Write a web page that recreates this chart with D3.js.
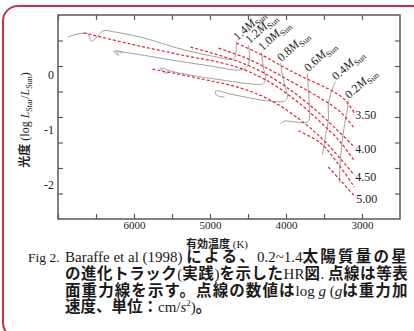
<!DOCTYPE html>
<html>
<head>
<meta charset="utf-8">
<script src="https://cdn.jsdelivr.net/npm/d3@7"></script>
<style>
  body { margin: 0; background: #fff; }
  svg { display: block; }
  .serif { font-family: "Liberation Serif", "DejaVu Serif", serif; }
  .jp { font-family: "Noto Sans CJK JP", sans-serif; font-weight: bold; }
  .axis line { stroke: #5a5a5a; stroke-width: 1.2; }
  .axis path { display: none; }
  .axis text { font-family: "Liberation Serif", serif; fill: #222; }
</style>
</head>
<body>
<svg id="chart"></svg>
<script>
// evolutionary tracks, [Teff (K), log L/Lsun], from the top of the Hayashi track to the ZAMS
const track14 = [[4651,0.47],[4664,0.22],[4690,0.14],[4993,0.20],[5426,0.35],[5873,0.55],[6267,0.67],[6398,0.69],[6556,0.49],[6608,0.63],[6700,0.64],[6871,0.57]];
const track12 = [[4493,0.41],[4480,0.12],[4520,-0.02],[4599,-0.08],[4993,0.00],[5518,0.12],[6043,0.25],[6267,0.29],[6201,0.21],[6227,0.29],[6148,0.25]];
const track10 = [[4323,0.27],[4296,-0.04],[4270,-0.27],[4310,-0.35],[4467,-0.35],[4861,-0.27],[5255,-0.18],[5518,-0.10],[5649,-0.04],[5597,-0.14],[5544,-0.12]];
const track08 = [[4073,0.06],[4047,-0.18],[4007,-0.43],[3981,-0.61],[4021,-0.69],[4204,-0.69],[4467,-0.63],[4730,-0.55],[4927,-0.49],[4914,-0.57],[4809,-0.61]];
const track06 = [[3718,-0.14],[3705,-0.47],[3692,-0.76],[3692,-1.02],[3718,-1.10],[3876,-1.10],[4021,-1.08],[4073,-1.14]];
const track04 = [[3351,-0.31],[3416,-0.57],[3443,-0.76],[3443,-1.06],[3482,-1.39],[3521,-1.75]];
const track02 = [[3180,-0.67],[3193,-0.86],[3219,-1.06],[3259,-1.45],[3285,-1.84],[3298,-2.29]];
const massLabels = ["1.4", "1.2", "1.0", "0.8", "0.6", "0.4", "0.2"];

// lines of equal surface gravity (log g)
const logg350 = [[4651,0.45],[4296,0.20],[4033,-0.02],[3771,-0.22],[3416,-0.47],[3219,-0.67],[3101,-0.92]];
const logg375 = [[4888,0.35],[4533,0.16],[4204,-0.08],[3876,-0.35],[3547,-0.63],[3285,-0.90],[3101,-1.22]];
const logg400 = [[5255,0.37],[4690,0.12],[4310,-0.12],[3942,-0.47],[3613,-0.86],[3351,-1.22],[3101,-1.59]];
const logg425 = [[6661,0.65],[6043,0.43],[5386,0.22],[4690,0.00],[4270,-0.27],[3876,-0.67],[3547,-1.10],[3285,-1.49],[3101,-1.86]];
const logg450 = [[5755,-0.06],[5124,-0.25],[4599,-0.43],[4204,-0.67],[3810,-1.06],[3482,-1.49],[3101,-2.14]];
const logg475 = [[3837,-1.27],[3547,-1.51],[3324,-1.90],[3101,-2.37]];
const logg500 = [[3443,-1.98],[3285,-2.24],[3088,-2.57]];
const loggLabels = ["3.50", "", "4.00", "", "4.50", "", "5.00"];

const xTickValues = [3000, 3500, 4000, 4500, 5000, 5500, 6000, 6500, 7000];
const xTickLabels = [3000, 4000, 5000, 6000];
const yTickValues = [0.5, 0, -0.5, -1, -1.5, -2, -2.5];
const yTickLabels = [0, -1, -2];

var margin = {top: 15, left: 58}
  , width = 342
  , height = 204;

var svg = d3.select("#chart")
  .attr("width", 414)
  .attr("height", 331);

// red rounded frame round the whole figure
svg.append("rect")
  .attr("x", 3).attr("y", 6)
  .attr("width", 424).attr("height", 332)
  .attr("rx", 15)
  .attr("fill", "none")
  .attr("stroke", "#c7304c")
  .attr("stroke-width", 2);

var x = d3.scaleLinear().domain([7000, 2500]).range([0, width]);
var y = d3.scaleLinear().domain([-3, 1]).range([height, 0]);
// the printed y labels sit a little off the tick marks
var yLab = d3.scaleLinear().domain([0, -2]).range([60, 170]);

var graph = svg.append("g")
  .attr("transform", "translate(" + margin.left + "," + margin.top + ")");

graph.append("rect")
  .attr("width", width).attr("height", height)
  .attr("fill", "none")
  .attr("stroke", "#5a5a5a")
  .attr("stroke-width", 1.5);

graph.append("g")
  .attr("class", "axis")
  .attr("transform", "translate(0," + height + ")")
  .call(d3.axisBottom(x).tickValues(xTickValues).tickSize(-5).tickPadding(2)
    .tickFormat(d => xTickLabels.includes(d) ? d : ""))
  .selectAll("text").attr("font-size", 11);

graph.append("g")
  .attr("class", "axis")
  .call(d3.axisTop(x).tickValues(xTickValues).tickSize(-5).tickFormat(""));

graph.append("g")
  .attr("class", "axis")
  .call(d3.axisLeft(y).tickValues(yTickValues).tickSize(-5).tickFormat(""));

graph.append("g")
  .attr("class", "axis")
  .attr("transform", "translate(" + width + ",0)")
  .call(d3.axisRight(y).tickValues(yTickValues).tickSize(-5).tickFormat(""));

graph.append("g")
  .attr("class", "axis")
  .call(d3.axisLeft(yLab).tickValues(yTickLabels).tickSize(0).tickPadding(4)
    .tickFormat(d => String(d)))
  .selectAll("text").attr("font-size", 12);

var line = d3.line()
  .x(d => x(d[0]))
  .y(d => y(d[1]))
  .curve(d3.curveCatmullRom.alpha(0.5));

const tracks = [track14, track12, track10, track08, track06, track04, track02];
const isoLines = [logg350, logg375, logg400, logg425, logg450, logg475, logg500];

graph.selectAll("path.track")
  .data(tracks)
  .enter().append("path")
  .attr("class", "track")
  .attr("d", line)
  .attr("fill", "none")
  .attr("stroke", "#a0a0a0")
  .attr("stroke-width", 1);

graph.selectAll("path.iso")
  .data(isoLines)
  .enter().append("path")
  .attr("class", "iso")
  .attr("d", line)
  .attr("fill", "none")
  .attr("stroke", "#dc2530")
  .attr("stroke-width", 1.2)
  .attr("stroke-dasharray", "3,2");

// mass labels at the top of each track
const massText = graph.selectAll("text.mass")
  .data(tracks)
  .enter().append("text")
  .attr("class", "mass serif")
  .attr("font-size", 12)
  .attr("fill", "#222")
  .attr("transform", d => "translate(" + (x(d[0][0]) + 1) + "," + (y(d[0][1]) - 1) + ") rotate(-42)");
massText.append("tspan").text((d, i) => massLabels[i]);
massText.append("tspan").attr("font-style", "italic").text("M");
massText.append("tspan").attr("font-size", 8.5).attr("dy", 3).text("Sun");

graph.selectAll("text.logg")
  .data(isoLines)
  .enter().append("text")
  .attr("class", "logg serif")
  .attr("font-size", 12)
  .attr("fill", "#222")
  .attr("x", d => x(d[d.length - 1][0]) + 1)
  .attr("y", d => y(d[d.length - 1][1]) + 2)
  .attr("dy", "0.35em")
  .text((d, i) => loggLabels[i]);

// axis titles
const yTitle = svg.append("text")
  .attr("transform", "translate(29,120) rotate(-90)")
  .attr("text-anchor", "middle")
  .attr("font-size", 12)
  .attr("fill", "#222");
yTitle.append("tspan").attr("class", "jp").text("光度");
yTitle.append("tspan").attr("class", "serif").text(" (log ");
yTitle.append("tspan").attr("class", "serif").attr("font-style", "italic").text("L");
yTitle.append("tspan").attr("class", "serif").attr("font-size", 8).attr("dy", 3).text("Star");
yTitle.append("tspan").attr("class", "serif").attr("dy", -3).text("/");
yTitle.append("tspan").attr("class", "serif").attr("font-style", "italic").text("L");
yTitle.append("tspan").attr("class", "serif").attr("font-size", 8).attr("dy", 3).text("Sun");
yTitle.append("tspan").attr("class", "serif").attr("dy", -3).text(")");

const xTitle = svg.append("text")
  .attr("x", 217).attr("y", 248)
  .attr("text-anchor", "middle")
  .attr("font-size", 11)
  .attr("fill", "#222");
xTitle.append("tspan").attr("class", "jp").text("有効温度");
xTitle.append("tspan").attr("class", "serif").text(" (K)");

// caption
svg.append("text")
  .attr("class", "serif")
  .attr("x", 28).attr("y", 262)
  .attr("font-size", 13.5)
  .attr("fill", "#1a1a1a")
  .text("Fig 2.");

const captionLines = [
  [["serif", "Baraffe et al (1998) "], ["jp", "による、"], ["serif", "0.2~1.4"], ["jp", "太陽質量の星"]],
  [["jp", "の進化トラック"], ["serif", "("], ["jp", "実践"], ["serif", ")"], ["jp", "を示した"], ["serif", "HR"], ["jp", "図"], ["serif", ". "], ["jp", "点線は等表"]],
  [["jp", "面重力線を示す。点線の数値は"], ["serif", "log "], ["serif it", "g"], ["serif", " ("], ["serif it", "g"], ["jp", "は重力加"]],
  [["jp", "速度、単位："], ["serif", "cm/"], ["serif it", "s"], ["serif sup", "2"], ["serif", ")"], ["jp", "。"]]
];

captionLines.forEach((parts, i) => {
  const t = svg.append("text")
    .attr("x", 65).attr("y", 262 + i * 16.8)
    .attr("fill", "#1a1a1a");
  parts.forEach(p => {
    const s = t.append("tspan")
      .attr("class", p[0].startsWith("jp") ? "jp" : "serif")
      .attr("font-size", p[0].startsWith("jp") ? 15.5 : 15)
      .text(p[1]);
    if (p[0].includes("it")) s.attr("font-style", "italic");
    if (p[0].includes("sup")) s.attr("font-size", 9).attr("dy", -6);
    if (p[0] === "serif" && i === 3 && p[1] === ")") s.attr("dy", 6);
  });
  // justify the first three lines by spreading the Japanese characters
  if (i < 3) {
    const natural = t.node().getComputedTextLength();
    const jpChars = parts.filter(p => p[0] === "jp").map(p => p[1].length).reduce((a, b) => a + b, 0);
    const extra = Math.max(0, Math.min(3, (343 - natural) / (jpChars - 0.5)));
    t.selectAll("tspan.jp").attr("letter-spacing", extra);
  }
});
</script>
</body>
</html>
